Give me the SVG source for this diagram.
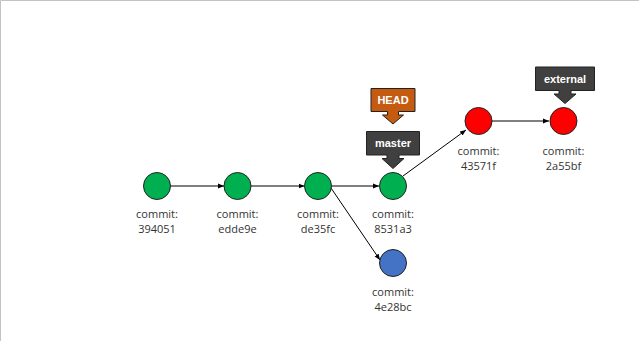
<svg xmlns="http://www.w3.org/2000/svg" width="639" height="341" viewBox="0 0 639 341">
<defs>
<marker id="arr" viewBox="0 0 10 10" refX="10" refY="5" markerWidth="6" markerHeight="6" orient="auto" markerUnits="userSpaceOnUse">
<path d="M0,1 L10,5 L0,9 z" fill="#000"/>
</marker>
</defs>
<style>
.edge{stroke:#000;stroke-width:1;fill:none;marker-end:url(#arr)}
.node{stroke:#222;stroke-width:1}
.green{fill:#00B050}
.red{fill:#FF0000}
.blue{fill:#4472C4}
.lbl{font-family:"Open Sans","Liberation Sans",sans-serif;font-size:11px;fill:#333;text-anchor:middle}
.tag{stroke:#222;stroke-width:1}
.tagtxt{font-family:"Liberation Sans",sans-serif;font-size:11px;font-weight:bold;fill:#fff;text-anchor:middle}
</style>
<rect x="0" y="0" width="639" height="341" fill="#fff"/>
<path d="M0.5,341 V0.5 H639" stroke="#c3c3c3" stroke-width="1" fill="none"/>

<g id="connectors">
<line class="edge" x1="171" y1="186" x2="224" y2="186"/>
<line class="edge" x1="251" y1="186" x2="304.5" y2="186"/>
<line class="edge" x1="332" y1="186" x2="379" y2="186"/>
<line class="edge" x1="331" y1="188" x2="380" y2="260"/>
<line class="edge" x1="403" y1="176" x2="466" y2="130"/>
<line class="edge" x1="492" y1="121" x2="549" y2="121"/>
</g>

<g id="c394051">
<circle class="node green" cx="157" cy="186" r="13.5"/>
<text class="lbl" x="157" y="218">commit:</text>
<text class="lbl" x="157" y="233">394051</text>
</g>
<g id="cedde9e">
<circle class="node green" cx="237.5" cy="186" r="13.5"/>
<text class="lbl" x="237.5" y="218">commit:</text>
<text class="lbl" x="237.5" y="233">edde9e</text>
</g>
<g id="cde35fc">
<circle class="node green" cx="318" cy="186" r="13.5"/>
<text class="lbl" x="318" y="218">commit:</text>
<text class="lbl" x="318" y="233">de35fc</text>
</g>
<g id="c8531a3">
<circle class="node green" cx="393" cy="186" r="13.5"/>
<text class="lbl" x="393" y="218">commit:</text>
<text class="lbl" x="393" y="233">8531a3</text>
</g>
<g id="c4e28bc">
<circle class="node blue" cx="393" cy="263" r="13.5"/>
<text class="lbl" x="393" y="296">commit:</text>
<text class="lbl" x="393" y="311">4e28bc</text>
</g>
<g id="c43571f">
<circle class="node red" cx="478.5" cy="121" r="13.5"/>
<text class="lbl" x="478.5" y="155">commit:</text>
<text class="lbl" x="478.5" y="170">43571f</text>
</g>
<g id="c2a55bf">
<circle class="node red" cx="563.5" cy="121" r="13.5"/>
<text class="lbl" x="563.5" y="155">commit:</text>
<text class="lbl" x="563.5" y="170">2a55bf</text>
</g>

<g id="HEAD">
<path class="tag" fill="#C55A11" d="M371,88.5 H415 V111.5 H398.5 V115 H403.5 L393,124 L382.5,115 H387.5 V111.5 H371 Z"/>
<text class="tagtxt" x="393" y="104">HEAD</text>
</g>
<g id="master">
<path class="tag" fill="#404040" d="M366.5,131.5 H419.5 V155 H399 V158.5 H404 L393,168.5 L382,158.5 H387 V155 H366.5 Z"/>
<text class="tagtxt" x="393" y="147">master</text>
</g>
<g id="external">
<path class="tag" fill="#404040" d="M535.5,67 H594.5 V90.5 H571 V94 H576 L565,103.5 L554,94 H559 V90.5 H535.5 Z"/>
<text class="tagtxt" x="565" y="82.5">external</text>
</g>
</svg>
